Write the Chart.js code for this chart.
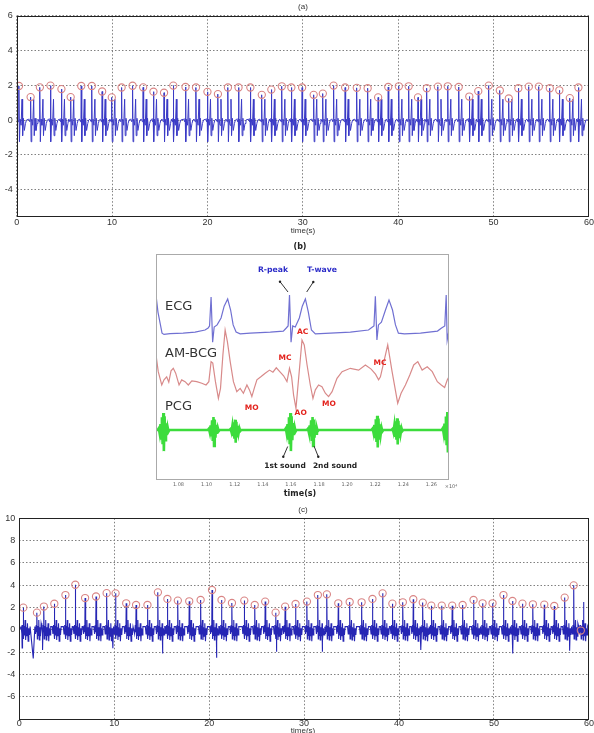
<!DOCTYPE html>
<html><head><meta charset="utf-8">
<script src="https://cdn.jsdelivr.net/npm/chart.js@4.4.1/dist/chart.umd.min.js"></script>
<style>
html,body{margin:0;padding:0;background:#fff;}
body{width:594px;height:733px;overflow:hidden;position:relative;font-family:"Liberation Sans",Arial,sans-serif;}
canvas{position:absolute;}
.t{position:absolute;white-space:nowrap;transform:translate(-50%,-50%);line-height:1;}
.l{position:absolute;white-space:nowrap;transform:translateY(-50%);line-height:1;}
.ms{font-family:"Liberation Sans",Arial,sans-serif;font-size:8px;color:#333;}
.dj{font-family:"DejaVu Sans",sans-serif;}
.bd{font-family:"DejaVu Sans",sans-serif;font-weight:bold;}
.red{color:#e3231d;font-size:7.5px;}
</style></head><body>
<canvas id="ca" width="594" height="235" style="left:0px;top:0px"></canvas>
<canvas id="cb" width="310" height="240" style="left:146px;top:250px"></canvas>
<canvas id="cc" width="594" height="228" style="left:0px;top:505px"></canvas>

<div class="t ms" style="left:303px;top:6.5px">(a)</div>
<div class="t ms" style="left:303px;top:231px">time(s)</div>
<div class="t bd" style="left:300px;top:246.5px;font-size:8px;color:#222">(b)</div>
<div class="t bd" style="left:300px;top:493.5px;font-size:8px;color:#222">time(s)</div>
<div class="t dj" style="left:451px;top:486px;font-size:5px;color:#666">×10⁴</div>
<div class="t ms" style="left:303px;top:510px">(c)</div>
<div class="t ms" style="left:303px;top:731px">time(s)</div>

<div class="l dj" style="left:165px;top:305px;font-size:13px;color:#333">ECG</div>
<div class="l dj" style="left:165px;top:352px;font-size:13px;color:#333">AM-BCG</div>
<div class="l dj" style="left:165px;top:405px;font-size:13px;color:#333">PCG</div>
<div class="t bd" style="left:273px;top:270px;font-size:7.7px;color:#2b2bc8">R-peak</div>
<div class="t bd" style="left:322px;top:270px;font-size:7.7px;color:#2b2bc8">T-wave</div>
<div class="t bd red" style="left:302.7px;top:332px">AC</div>
<div class="t bd red" style="left:285px;top:357.7px">MC</div>
<div class="t bd red" style="left:380px;top:363px">MC</div>
<div class="t bd red" style="left:251.7px;top:407.7px">MO</div>
<div class="t bd red" style="left:300.7px;top:413.3px">AO</div>
<div class="t bd red" style="left:329px;top:404.3px">MO</div>
<div class="t bd" style="left:285px;top:465.7px;font-size:7.5px;color:#222">1st sound</div>
<div class="t bd" style="left:335px;top:465.7px;font-size:7.5px;color:#222">2nd sound</div>

<svg width="594" height="733" style="position:absolute;left:0;top:0;pointer-events:none">
<g stroke="#333" stroke-width="1">
<line x1="280" y1="281.7" x2="288" y2="292"/>
<line x1="313.3" y1="282" x2="306.7" y2="292"/>
<line x1="283.3" y1="456.7" x2="287.7" y2="446.5"/>
<line x1="318.3" y1="456.7" x2="314" y2="446"/>
</g>
<g fill="#222">
<circle cx="280" cy="281.7" r="1.2"/><circle cx="313.3" cy="282" r="1.2"/>
<circle cx="283.3" cy="456.7" r="1.2"/><circle cx="318.3" cy="456.7" r="1.2"/>
</g>
</svg>

<script>
// ---------- Panel (a) ----------
const rPeakTimeA = [0.24,1.46,2.43,3.54,4.69,5.66,6.77,7.88,8.96,9.97,11.0,12.15,13.26,14.34,15.45,16.42,17.7,18.8,20.0,21.1,22.15,23.26,24.5,25.7,26.7,27.8,28.8,
  29.93,31.14,32.1,33.23,34.44,35.66,36.8,37.9,38.96,40.07,41.1,42.08,43.0,44.17,45.2,46.35,47.46,48.4,49.5,50.66,51.6,52.6,53.7,54.75,55.9,56.9,58.0,58.9];
const rPeakAmpA = [1.96,1.32,1.88,1.98,1.78,1.32,1.96,1.96,1.64,1.3,1.87,1.97,1.88,1.63,1.57,1.98,1.9,1.87,1.62,1.49,1.87,1.87,1.87,1.45,1.75,1.94,1.87,
  1.87,1.45,1.52,1.98,1.87,1.85,1.83,1.3,1.9,1.94,1.94,1.3,1.83,1.92,1.94,1.9,1.35,1.66,1.98,1.7,1.24,1.83,1.92,1.92,1.83,1.71,1.26,1.87];
const beatDtA = [-0.20,-0.08,-0.03,0,0.05,0.12,0.22,0.32,0.38,0.46,0.56,0.68,0.78];
const beatValA = [0.05,-0.1,0.1,null,-1.25,0.05,-0.3,1.2,-0.9,0.1,-0.6,-0.2,0.0];
const xTicksA = [0,10,20,30,40,50,60];
const yTicksA = [-4,-2,0,2,4,6];

// ---------- Panel (c) ----------
const rPeakTimeC = [0.42,1.86,2.59,3.69,4.86,5.9,6.93,8.08,9.2,10.14,11.26,12.3,13.5,14.6,15.6,16.7,17.9,19.1,20.3,21.3,22.4,23.7,24.8,25.9,27.0,28.0,29.1,30.3,31.45,32.4,
  33.6,34.8,36.06,37.2,38.27,39.3,40.4,41.5,42.5,43.4,44.5,45.6,46.7,47.85,48.8,49.85,51.0,51.95,53.0,54.1,55.3,56.35,57.45,58.4,59.15];
const rPeakAmpC = [2.0,1.55,2.1,2.35,3.13,4.05,2.86,3.0,3.3,3.28,2.39,2.24,2.24,3.37,2.78,2.63,2.57,2.69,3.58,2.69,2.42,2.63,2.24,2.54,1.55,2.09,2.33,2.54,3.13,3.19,
  2.39,2.51,2.48,2.78,3.28,2.36,2.48,2.75,2.45,2.18,2.18,2.18,2.24,2.69,2.39,2.39,3.13,2.6,2.36,2.3,2.27,2.15,2.9,4.0,-0.05];
const beatDtC = [-0.22,-0.15,-0.08,-0.03,0,0.04,0.08,0.13,0.19,0.25,0.31,0.37,0.44,0.51,0.58,0.65,0.72];
const beatValC = [0.3,-0.35,0.45,-0.2,null,-0.8,0.35,-0.5,0.9,-0.9,0.25,-0.55,0.6,-1.0,0.15,-0.45,0.3];
const extraTimeC = [0.3,1.47,2.45,9.86,15.1,20.77,27.08,31.9,42.3,51.99,57.97,59.45];
const extraValC = [-1.6,-2.54,-1.8,-1.64,-2.1,-2.48,-1.94,-1.94,-1.8,-2.1,-1.85,2.5];
const xTicksC = [0,10,20,30,40,50,60];
const yTicksC = [-6,-4,-2,0,2,4,6,8,10];

// ---------- Panel (b) ----------
const ecgTrace = [[1.0640,5.25],[1.0654,4.59],[1.0683,3.77],[1.0697,3.72],[1.0740,3.75],[1.0833,3.77],[1.0918,3.81],[1.0989,3.89],[1.1011,3.97],[1.1021,4.05],[1.1032,5.18],[1.1043,3.42],[1.1054,4.01],[1.1075,4.09],[1.1103,4.36],[1.1125,4.82],[1.1150,5.10],[1.1171,4.67],[1.1189,4.09],[1.1210,3.81],[1.1239,3.74],[1.1310,3.77],[1.1453,3.81],[1.1546,3.85],[1.1567,3.97],[1.1580,4.05],[1.1590,5.25],[1.1601,3.42],[1.1613,4.05],[1.1631,4.01],[1.1660,4.36],[1.1681,4.82],[1.1703,5.10],[1.1724,4.59],[1.1746,3.89],[1.1774,3.74],[1.1881,3.77],[1.2023,3.81],[1.2152,3.89],[1.2180,4.01],[1.2191,4.05],[1.2201,5.21],[1.2212,3.50],[1.2223,4.09],[1.2244,4.20],[1.2273,4.67],[1.2298,5.06],[1.2323,4.67],[1.2344,4.09],[1.2365,3.77],[1.2408,3.74],[1.2522,3.77],[1.2643,3.85],[1.2672,3.97],[1.2695,4.05],[1.2705,5.25],[1.2712,3.50],[1.2725,3.89]];
const bcgTrace = [[1.0640,2.92],[1.0656,2.27],[1.0681,1.75],[1.0697,1.95],[1.0716,2.07],[1.0731,1.86],[1.0747,2.30],[1.0763,2.40],[1.0780,2.21],[1.0804,1.75],[1.0823,1.95],[1.0847,1.88],[1.0870,1.75],[1.0895,1.91],[1.0930,1.88],[1.0966,1.82],[1.0996,1.75],[1.1016,1.88],[1.1032,2.66],[1.1044,2.60],[1.1063,1.88],[1.1084,1.23],[1.1099,1.62],[1.1116,2.92],[1.1132,3.89],[1.1148,3.44],[1.1168,2.66],[1.1191,1.88],[1.1215,1.49],[1.1239,1.62],[1.1262,1.43],[1.1287,1.75],[1.1305,1.56],[1.1322,1.30],[1.1339,1.62],[1.1358,1.95],[1.1386,2.07],[1.1417,2.21],[1.1448,2.33],[1.1472,2.25],[1.1496,2.42],[1.1524,2.25],[1.1548,2.11],[1.1572,1.88],[1.1590,2.40],[1.1605,2.07],[1.1619,1.36],[1.1636,0.84],[1.1655,2.01],[1.1679,3.50],[1.1695,3.31],[1.1715,2.53],[1.1738,1.75],[1.1757,1.23],[1.1774,1.56],[1.1797,1.75],[1.1821,1.68],[1.1845,1.43],[1.1868,1.30],[1.1893,1.49],[1.1928,2.01],[1.1964,2.27],[1.2023,2.40],[1.2082,2.33],[1.2130,2.53],[1.2171,2.37],[1.2202,2.17],[1.2224,1.95],[1.2237,2.07],[1.2289,3.31],[1.2320,2.27],[1.2360,1.04],[1.2384,1.43],[1.2415,1.75],[1.2446,2.14],[1.2474,2.53],[1.2503,2.66],[1.2534,2.33],[1.2570,2.46],[1.2606,2.27],[1.2642,1.88],[1.2670,1.75],[1.2694,1.65],[1.2713,1.95],[1.2725,2.07]];
const pcgBurstX = [1.0692,1.1049,1.1203,1.1596,1.1754,1.2214,1.2356,1.2713];
const pcgBurstAmp = [0.66,0.5,0.4,0.66,0.5,0.55,0.45,0.7];
const pcgBurstDx = [-0.0040,-0.0032,-0.0026,-0.0020,-0.0015,-0.0010,-0.0005,0,0.0004,0.0009,0.0014,0.0019,0.0025,0.0031,0.0037,0.0044];
const pcgBurstShape = [0,0.1,-0.2,0.35,-0.5,0.75,-0.85,1.0,-1.25,0.8,-0.6,0.4,-0.3,0.15,-0.1,0];
const xTicksB = [1.08,1.1,1.12,1.14,1.16,1.18,1.2,1.22,1.24,1.26];

// ---------- builders ----------
function buildBeats(times, amps, dts, vals, postGap, start, end, exT, exV){
  const pts = [{x:start,y:0}];
  times.forEach((t,i)=>{
    const next = i < times.length-1 ? times[i+1] : Infinity;
    dts.forEach((dt,k)=>{
      const x = t+dt;
      if (vals[k] === null) { pts.push({x, y:amps[i]}); return; }
      if (dt > 0 && x >= next - postGap) return;
      pts.push({x, y:vals[k]});
    });
  });
  (exT||[]).forEach((t,i)=>pts.push({x:t,y:exV[i]}));
  pts.push({x:end,y:0});
  pts.sort((a,b)=>a.x-b.x);
  return pts.filter(p=>p.x>=start && p.x<=end);
}
const sigA = buildBeats(rPeakTimeA, rPeakAmpA, beatDtA, beatValA, 0.22, 0, 60);
const peaksA = rPeakTimeA.map((t,i)=>({x:t,y:rPeakAmpA[i]}));
const sigC = buildBeats(rPeakTimeC, rPeakAmpC, beatDtC, beatValC, 0.24, 0, 60, extraTimeC, extraValC);
const peaksC = rPeakTimeC.map((t,i)=>({x:t,y:rPeakAmpC[i]}));
const ecgData = ecgTrace.map(p=>({x:p[0],y:p[1]}));
const bcgData = bcgTrace.map(p=>({x:p[0],y:p[1]}));
const pcgData = [{x:1.064,y:0}];
pcgBurstX.forEach((c,i)=>pcgBurstDx.forEach((d,k)=>pcgData.push({x:c+d,y:pcgBurstAmp[i]*pcgBurstShape[k]})));
pcgData.push({x:1.2725,y:0});
pcgData.sort((a,b)=>a.x-b.x);

// ---------- plugins / helpers ----------
const frame = {id:'frame', afterDraw(chart, args, opts){
  const {ctx, chartArea:a} = chart;
  ctx.save(); ctx.strokeStyle = opts.color || '#000'; ctx.lineWidth = 1;
  ctx.strokeRect(Math.round(a.left)+0.5, Math.round(a.top)+0.5, Math.round(a.right-a.left)-1, Math.round(a.bottom-a.top)-1);
  ctx.restore();
}};
const tickFont = {family:'"Liberation Sans", Arial, sans-serif', size:9};
function axis(min, max, ticks, fit, isY, pad){
  return {
    type:'linear', min, max,
    afterBuildTicks: s => { s.ticks = ticks.map(v=>({value:v})); },
    afterFit: s => { if (isY) s.width = fit; else s.height = fit; },
    grid:{color:'#808080', lineWidth:1, drawTicks:false},
    border:{display:false, dash:[1.5,2]},
    ticks:{padding: pad, font:tickFont, color:'#333', autoSkip:false, maxRotation:0}
  };
}
const base = (pad) => ({
  responsive:false, animation:false, events:[],
  layout:{padding:pad},
  plugins:{legend:{display:false}, tooltip:{enabled:false}, frame:{color:'#222'}}
});

new Chart(document.getElementById('ca'), {
  type:'line',
  data:{datasets:[
    {type:'scatter', data:peaksA, showLine:false, pointRadius:3.6, pointBorderColor:'#d98585', pointBackgroundColor:'rgba(0,0,0,0)', pointBorderWidth:1.1},
    {data:sigA, borderColor:'#3b3bc6', borderWidth:1, pointRadius:0, tension:0}
  ]},
  options:Object.assign(base({top:15.7,right:3,left:0,bottom:0}), {
    scales:{ x:axis(0,60,xTicksA,18.3,false,0), y:axis(-5.56,6,yTicksA,16.7,true,4) }
  }),
  plugins:[frame]
});

new Chart(document.getElementById('cc'), {
  type:'line',
  data:{datasets:[
    {type:'scatter', data:peaksC, showLine:false, pointRadius:3.6, pointBorderColor:'#d98585', pointBackgroundColor:'rgba(0,0,0,0)', pointBorderWidth:1.1},
    {data:sigC, borderColor:'#2626b4', borderWidth:1.1, pointRadius:0, tension:0}
  ]},
  options:Object.assign(base({top:13.3,right:3,left:0,bottom:0}), {
    scales:{ x:axis(0,60,xTicksC,13,false,-2), y:axis(-8.06,10,yTicksC,19.3,true,4) }
  }),
  plugins:[frame]
});

const optB = base({top:4.3,right:7,left:0,bottom:0});
optB.plugins.frame = {color:'#aaaaaa'};
optB.scales = {
  x:{type:'linear', min:1.064, max:1.2725,
     afterBuildTicks: s => { s.ticks = xTicksB.map(v=>({value:v})); },
     afterFit: s => { s.height = 10; },
     grid:{display:false, drawTicks:false}, border:{display:false},
     ticks:{padding:1.5, font:{family:'"DejaVu Sans", sans-serif', size:5}, color:'#666', autoSkip:false, maxRotation:0}},
  y:{type:'linear', min:-1.95, max:6.84,
     afterFit: s => { s.width = 10; },
     grid:{display:false, drawTicks:false}, border:{display:false},
     ticks:{display:false}}
};
new Chart(document.getElementById('cb'), {
  type:'line',
  data:{datasets:[
    {data:ecgData, borderColor:'#7070d2', borderWidth:1.2, pointRadius:0, tension:0},
    {data:bcgData, borderColor:'#d88a8a', borderWidth:1.2, pointRadius:0, tension:0},
    {data:pcgData, borderColor:'#3cdc3c', borderWidth:2.6, pointRadius:0, tension:0}
  ]},
  options:optB,
  plugins:[frame]
});
</script>
</body></html>
